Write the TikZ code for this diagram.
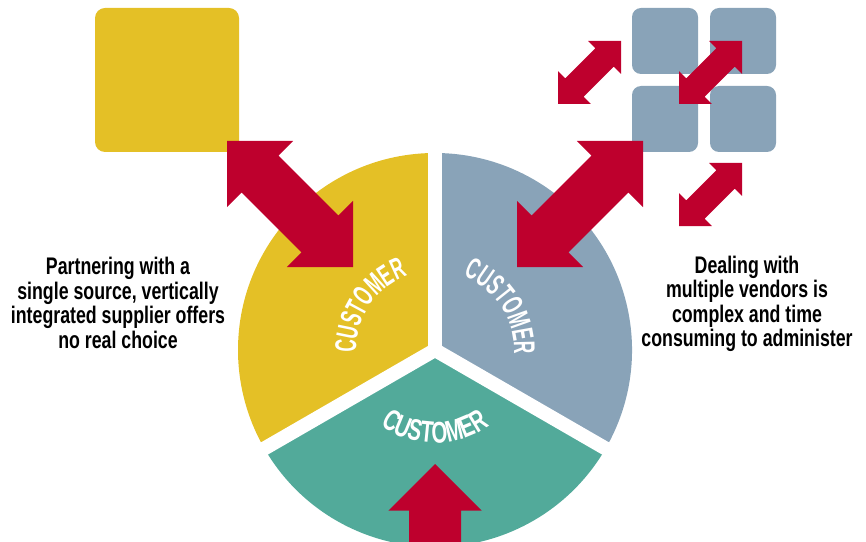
\documentclass[tikz,border=0pt]{standalone}
\usepackage{fontspec}
\usetikzlibrary{calc,positioning,decorations.text}
\newfontfamily\bodyfont[FakeStretch=0.74]{Liberation Sans Bold}
\newfontfamily\custfont[FakeStretch=0.58]{Liberation Sans Bold}
\newfontfamily\custwide[FakeStretch=0.68]{Liberation Sans Bold}
\definecolor{pieyellow}{RGB}{228,192,38}
\definecolor{pieblue}{RGB}{137,163,184}
\definecolor{piegreen}{RGB}{82,170,154}
\definecolor{arrowred}{RGB}{190,0,45}
% tip, angle, length, head, half shaft
\newcommand{\dblarrow}[5]{%
  \fill[arrowred,shift={#1},rotate=#2] (0,0) -- (#4,#4) -- (#4,#5) -- ({#3-#4},#5) -- ({#3-#4},#4)
    -- (#3,0) -- ({#3-#4},-#4) -- ({#3-#4},-#5) -- (#4,-#5) -- (#4,-#4) -- cycle;}

\begin{document}
\begin{tikzpicture}[x=1pt,y=1pt,
    custlabel/.style={decorate,decoration={text along path,text align=center,text color=white,
      text={|#1\fontsize{30}{30}\selectfont|CUSTOMER}}},
    custlabel/.default=\custfont,
    note/.style={font=\bodyfont\fontsize{24}{24.5}\selectfont,align=center,inner sep=0pt}]
    \pgfmathsetmacro{\rad}{197}
    \useasboundingbox (0,0) rectangle (866,541);
    \clip (0,0) rectangle (866,541);

    \coordinate (O) at (435,191);

    \fill[pieyellow] (O) -- ++(90:\rad) arc[start angle=90,end angle=210,radius=\rad] -- cycle;
    \fill[piegreen] (O) -- ++(210:\rad) arc[start angle=210,end angle=330,radius=\rad] -- cycle;
    \fill[pieblue] (O) -- ++(330:\rad) arc[start angle=330,end angle=450,radius=\rad] -- cycle;
    \foreach \a in {90,210,330}
      \draw[white,line width=14pt] (O) -- ++(\a:\rad+10);

    % supplier squares
    \fill[pieyellow,rounded corners=10pt] (95,389) rectangle (239,533);
    \foreach \x in {632,710} \foreach \y in {389,467}
      \fill[pieblue,rounded corners=9pt] (\x,\y) rectangle ++(66,66);

    \dblarrow{(227,400)}{-45}{178.2}{46.7}{26}
    \dblarrow{(643,400)}{-135}{178.2}{46.7}{26}
    \dblarrow{(435,77)}{-90}{178.2}{46.7}{26}
    \dblarrow{(621,500)}{-135}{89.1}{23.3}{13}
    \dblarrow{(742,500)}{-135}{89.1}{23.3}{13}
    \dblarrow{(742,378)}{-135}{89.1}{23.3}{13}

    \path[custlabel] ($(O)+(200:79)$) arc[start angle=200,end angle=92,radius=79];
    \path[custlabel] ($(O)+(88:79)$) arc[start angle=88,end angle=-22,radius=79];
    \path[custlabel=\custwide] ($(O)+(215:93)$) arc[start angle=215,end angle=325,radius=93];

    \node[note] (single) at (118,238) {Partnering with a\\single source, vertically\\integrated supplier offers\\no real choice};
    \node[note] (multi) at (747,237) {Dealing with\\multiple vendors is\\complex and time\\consuming to administer};
\end{tikzpicture}
\end{document}
